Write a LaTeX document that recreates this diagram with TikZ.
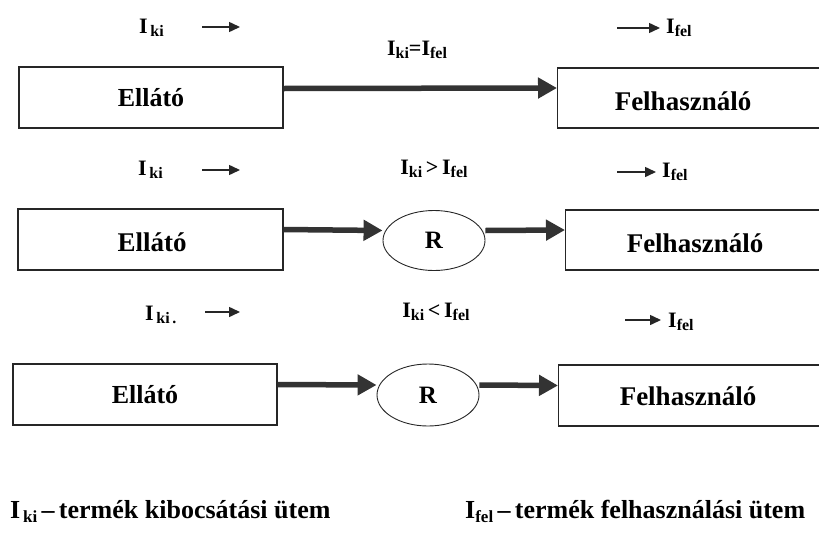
\documentclass[tikz,border=0pt]{standalone}
\usepackage{fontspec}
\setmainfont{Liberation Serif}
\usetikzlibrary{arrows.meta,shapes.geometric,calc}
\newcommand\myI[2]{I{\fontsize{16}{16}\selectfont\raisebox{-3.5pt}{#1}}#2}
\newcommand\legI[2]{I{\fontsize{17}{17}\selectfont\raisebox{-4pt}{#1}}#2}
\begin{document}
\begin{tikzpicture}[x=1pt,y=-1pt,
  box/.style={draw=black!85, line width=1.3pt, rectangle, inner sep=0pt,
    font=\fontsize{26}{30}\selectfont\bfseries},
  boxtext/.style={inner sep=0pt, font=\fontsize{27}{30}\selectfont\bfseries},
  rnode/.style={draw=black!85, line width=0.9pt, ellipse, inner sep=0pt,
    minimum width=102pt, minimum height=60pt, font=\fontsize{25}{30}\selectfont\bfseries},
  lab/.style={inner sep=0pt, font=\fontsize{22}{24}\selectfont\bfseries},
  legend/.style={inner sep=0pt, anchor=west, font=\fontsize{26}{30}\selectfont\bfseries},
  bigarrow/.style={draw=black!80, line width=5.5pt,
    -{Triangle[length=19pt,width=20pt]}},
  smallarrow/.style={draw=black!85, line width=1.5pt,
    -{Triangle[length=11pt,width=10pt]}}
]
\useasboundingbox (0,0) rectangle (819,533);
\clip (0,0) rectangle (819,533);

% ---------- row 1 ----------
\node[box, minimum width=264pt, minimum height=61pt] (e1) at (151,97.5) {Ellátó};
\node[box, minimum width=270pt, minimum height=60pt, anchor=west] (f1) at (557,98) {};
\node[boxtext] (f1t) at (683,101) {Felhasználó};
\draw[bigarrow] ([yshift=9pt]e1.east) -- ([yshift=10pt]f1.west);
\node[lab, anchor=west] (l1a) at (139,28) {\myI{\,ki}{}};
\coordinate (a1s) at (202,27);
\coordinate (a1e) at (240,27);
\draw[smallarrow] (a1s) -- (a1e);
\coordinate (b1s) at (617,28);
\coordinate (b1e) at (660,28);
\draw[smallarrow] (b1s) -- (b1e);
\node[lab, anchor=west] (l1b) at (666,28) {\myI{fel}{}};
\node[lab] (l1c) at (417,50) {\myI{ki}{=}\myI{fel}{}};

% ---------- row 2 ----------
\node[box, minimum width=265pt, minimum height=61pt] (e2) at (150.5,239.5) {};
\node[boxtext] (e2t) at (152,242) {Ellátó};
\node[rnode] (r2) at (434,240.5) {R};
\node[box, minimum width=270pt, minimum height=60pt, anchor=west] (f2) at (565,240) {};
\node[boxtext] (f2t) at (695,243) {Felhasználó};
\draw[bigarrow] ([yshift=10pt]e2.east) -- ([yshift=10pt]r2.west);
\draw[bigarrow] ([yshift=10pt]r2.east) -- ([yshift=10pt]f2.west);
\node[lab, anchor=west] (l2a) at (138,170) {\myI{\,ki}{}};
\coordinate (a2s) at (202,170);
\coordinate (a2e) at (240,170);
\draw[smallarrow] (a2s) -- (a2e);
\node[lab] (l2c) at (434,169) {\myI{ki}{\,>\,}\myI{fel}{}};
\coordinate (b2s) at (617,172);
\coordinate (b2e) at (656,172);
\draw[smallarrow] (b2s) -- (b2e);
\node[lab, anchor=west] (l2b) at (662,172) {\myI{fel}{}};

% ---------- row 3 ----------
\node[box, minimum width=264pt, minimum height=61pt] (e3) at (145,394.5) {Ellátó};
\node[rnode, minimum height=62pt] (r3) at (428,395) {R};
\node[box, minimum width=270pt, minimum height=61pt, anchor=west] (f3) at (558,395.5) {};
\node[boxtext] (f3t) at (688,396) {Felhasználó};
\draw[bigarrow] ([yshift=10pt]e3.east) -- ([yshift=10pt]r3.west);
\draw[bigarrow] ([yshift=10pt]r3.east) -- ([yshift=10pt]f3.west);
\node[lab, anchor=west] (l3a) at (145,315) {\myI{\,ki\,.}{}};
\coordinate (a3s) at (205,312);
\coordinate (a3e) at (240,312);
\draw[smallarrow] (a3s) -- (a3e);
\node[lab] (l3c) at (436,312) {\myI{ki}{\,<\,}\myI{fel}{}};
\coordinate (b3s) at (625,320);
\coordinate (b3e) at (661,320);
\draw[smallarrow] (b3s) -- (b3e);
\node[lab, anchor=west] (l3b) at (668,322) {\myI{fel}{}};

% ---------- legend ----------
\node[legend] (g1) at (10,511) {\legI{\,ki}{\,--\,termék kibocsátási ütem}};
\node[legend] (g2) at (465,511) {\legI{fel}{\,--\,termék felhasználási ütem}};
\end{tikzpicture}
\end{document}
